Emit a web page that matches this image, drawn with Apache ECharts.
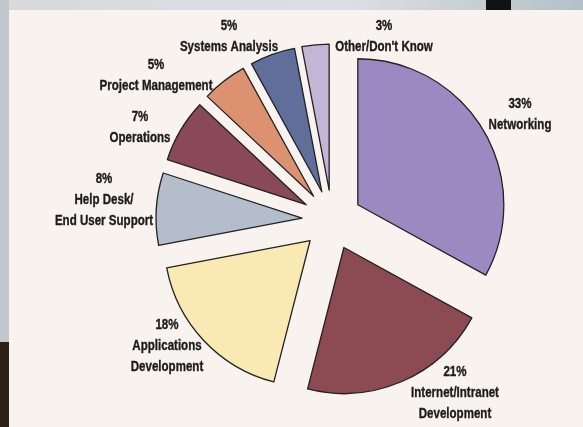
<!DOCTYPE html>
<html>
<head>
<meta charset="utf-8">
<script src="https://cdn.jsdelivr.net/npm/echarts@6/dist/echarts.min.js"></script>
<style>
html,body{margin:0;padding:0;background:#f8f3ee;}
#c{width:583px;height:427px;}
</style>
</head>
<body>
<div id="c"></div>
<script>
const categories = ["Networking", "Internet/Intranet\nDevelopment", "Applications\nDevelopment", "Help Desk/\nEnd User Support", "Operations", "Project Management", "Systems Analysis", "Other/Don't Know"];
const values = [33, 21, 18, 8, 7, 5, 5, 3];
const colors = ["#9d89c2", "#8c4a53", "#f9eab4", "#b3bdcc", "#8a4956", "#dc9271", "#5f6f99", "#c3b5d6"];
// label block centres (layout only)
const labelPos = [[520, 114], [455, 393], [167, 346], [104, 200], [140, 127], [156, 75], [229, 36], [384, 36]];

const chart = echarts.init(document.getElementById('c'), null, {renderer: 'canvas'});
const data = categories.map((n, i) => ({
  name: n, value: values[i], selected: true,
  itemStyle: {color: colors[i]}
}));
const labelTexts = categories.map((n, i) => ({
  type: 'text',
  x: labelPos[i][0],
  y: labelPos[i][1],
  scaleX: 0.77,
  silent: true,
  z: 10,
  style: {
    text: values[i] + '%\n' + n,
    font: "bold 15px 'Liberation Sans', Arial, sans-serif",
    lineHeight: 21,
    fill: '#1c1a1a',
    stroke: '#1c1a1a',
    lineWidth: 0.35,
    align: 'center',
    verticalAlign: 'middle',
    shadowColor: 'rgba(0,0,0,0.3)',
    shadowBlur: 1.5
  }
}));
chart.setOption({
  backgroundColor: '#f8f3ee',
  animation: false,
  graphic: [
    {type: 'rect', shape: {x: 0, y: 0, width: 583, height: 10}, style: {fill: new echarts.graphic.LinearGradient(0, 0, 1, 0, [{offset: 0, color: '#d9d9db'}, {offset: 0.6, color: '#dcdfe2'}, {offset: 1, color: '#b4c0c8'}])}, silent: true},
    {type: 'rect', shape: {x: 0, y: 0, width: 9, height: 427}, style: {fill: '#c2c7cc'}, silent: true},
    {type: 'rect', shape: {x: 0, y: 342, width: 9, height: 85}, style: {fill: '#2e1f18'}, silent: true},
    {type: 'rect', shape: {x: 486, y: 0, width: 25, height: 10}, style: {fill: '#111'}, silent: true}
  ].concat(labelTexts),
  series: [{
    type: 'pie',
    center: [332, 220],
    radius: 146,
    startAngle: 90,
    clockwise: true,
    selectedMode: 'multiple',
    selectedOffset: 30,
    data: data,
    itemStyle: {borderColor: '#222', borderWidth: 1.3},
    select: {itemStyle: {borderColor: '#222', borderWidth: 1.3}},
    emphasis: {disabled: true},
    labelLine: {show: false},
    label: {show: false}
  }]
});
</script>
</body>
</html>
